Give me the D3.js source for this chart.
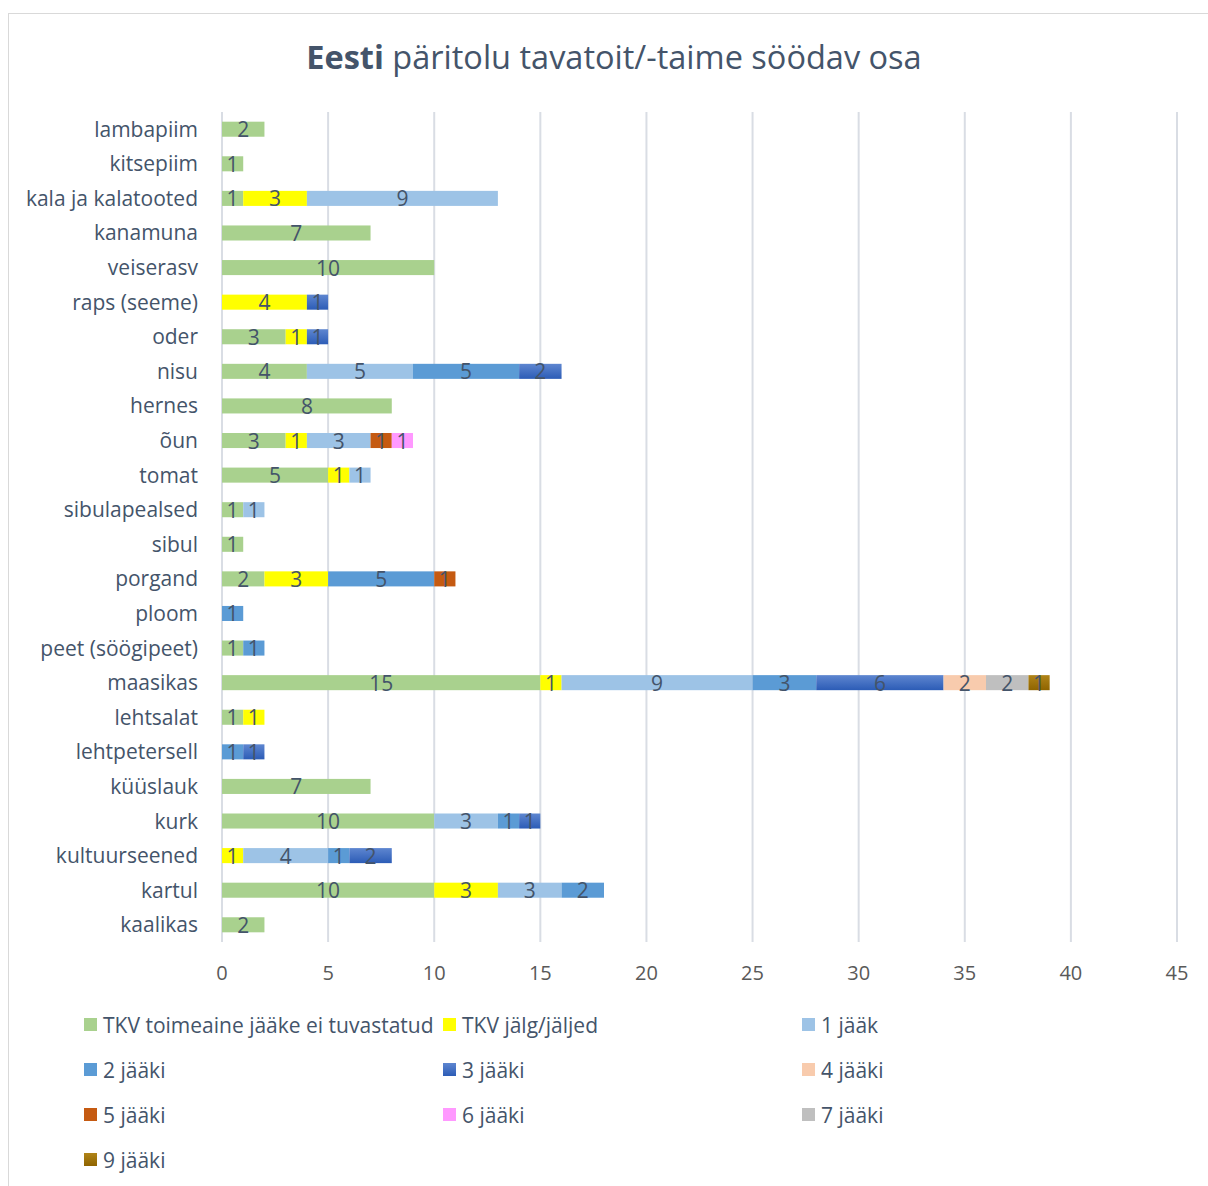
<!DOCTYPE html>
<html>
<head>
<meta charset="utf-8">
<script src="https://cdn.jsdelivr.net/npm/d3@7"></script>
<style>
  body { margin: 0; background: #fff; }
  svg text { font-family: "Open Sans", "Noto Sans", sans-serif; }
</style>
</head>
<body>
<svg id="chart" width="1208" height="1186"></svg>
<script>
// Categories, listed top to bottom as drawn
const categories = [
  "lambapiim", "kitsepiim", "kala ja kalatooted", "kanamuna", "veiserasv",
  "raps (seeme)", "oder", "nisu", "hernes", "õun", "tomat", "sibulapealsed",
  "sibul", "porgand", "ploom", "peet (söögipeet)", "maasikas", "lehtsalat",
  "lehtpetersell", "küüslauk", "kurk", "kultuurseened", "kartul", "kaalikas"
];

const seriesNames = [
  "TKV toimeaine jääke ei tuvastatud", "TKV jälg/jäljed", "1 jääk", "2 jääki",
  "3 jääki", "4 jääki", "5 jääki", "6 jääki", "7 jääki", "9 jääki"
];

// One array per series, aligned with categories
const notDetected = [2, 1, 1, 7, 10, 0, 3, 4, 8, 3, 5, 1, 1, 2, 0, 1, 15, 1, 0, 7, 10, 0, 10, 2];
const traces      = [0, 0, 3, 0, 0, 4, 1, 0, 0, 1, 1, 0, 0, 3, 0, 0, 1, 1, 0, 0, 0, 1, 3, 0];
const residue1    = [0, 0, 9, 0, 0, 0, 0, 5, 0, 3, 1, 1, 0, 0, 0, 0, 9, 0, 0, 0, 3, 4, 3, 0];
const residue2    = [0, 0, 0, 0, 0, 0, 0, 5, 0, 0, 0, 0, 0, 5, 1, 1, 3, 0, 1, 0, 1, 1, 2, 0];
const residue3    = [0, 0, 0, 0, 0, 1, 1, 2, 0, 0, 0, 0, 0, 0, 0, 0, 6, 0, 1, 0, 1, 2, 0, 0];
const residue4    = [0, 0, 0, 0, 0, 0, 0, 0, 0, 0, 0, 0, 0, 0, 0, 0, 2, 0, 0, 0, 0, 0, 0, 0];
const residue5    = [0, 0, 0, 0, 0, 0, 0, 0, 0, 1, 0, 0, 0, 1, 0, 0, 0, 0, 0, 0, 0, 0, 0, 0];
const residue6    = [0, 0, 0, 0, 0, 0, 0, 0, 0, 1, 0, 0, 0, 0, 0, 0, 0, 0, 0, 0, 0, 0, 0, 0];
const residue7    = [0, 0, 0, 0, 0, 0, 0, 0, 0, 0, 0, 0, 0, 0, 0, 0, 2, 0, 0, 0, 0, 0, 0, 0];
const residue9    = [0, 0, 0, 0, 0, 0, 0, 0, 0, 0, 0, 0, 0, 0, 0, 0, 1, 0, 0, 0, 0, 0, 0, 0];

const xTicks = [0, 5, 10, 15, 20, 25, 30, 35, 40, 45];

const seriesValues = [notDetected, traces, residue1, residue2, residue3,
                      residue4, residue5, residue6, residue7, residue9];

const fills = ["#A9D18E", "#FFFF00", "#9DC3E6", "#5B9BD5", "url(#g3)",
               "#F8CBAD", "#C55A11", "#FF99FF", "#BFBFBF", "url(#g9)"];

const rows = categories.map((c, i) => {
  const r = { cat: c };
  seriesNames.forEach((s, k) => r[s] = seriesValues[k][i]);
  return r;
});

const svg = d3.select("#chart");
const defs = svg.append("defs");

function vGrad(id, top, bottom) {
  const g = defs.append("linearGradient").attr("id", id)
    .attr("x1", 0).attr("y1", 0).attr("x2", 0).attr("y2", 1);
  g.append("stop").attr("offset", "0%").attr("stop-color", top);
  g.append("stop").attr("offset", "100%").attr("stop-color", bottom);
}
vGrad("g3", "#5E86D0", "#2C5CB6");
vGrad("g9", "#B08418", "#8F6400");

// chart frame
svg.append("rect").attr("x", 8.5).attr("y", 13.5).attr("width", 1210).attr("height", 1190)
  .attr("fill", "#fff").attr("stroke", "#D9D9D9").attr("stroke-width", 1);

svg.append("text").attr("x", 614).attr("y", 69).attr("text-anchor", "middle")
  .attr("font-size", 32.5).attr("fill", "#44546A")
  .call(t => {
    t.append("tspan").attr("font-weight", "bold").text("Eesti");
    t.append("tspan").text(" päritolu tavatoit/-taime söödav osa");
  });

const x = d3.scaleLinear().domain([0, 45]).range([222, 1177]);
const y = d3.scaleBand().domain(categories).range([112, 942]).paddingInner(0.565).paddingOuter(0.28);

// vertical grid
svg.append("g").selectAll("line").data(xTicks).join("line")
  .attr("x1", d => x(d)).attr("x2", d => x(d))
  .attr("y1", 112).attr("y2", 942)
  .attr("stroke", "#D9DDE4").attr("stroke-width", 2);

const stack = d3.stack().keys(seriesNames)(rows);

const layers = svg.append("g").selectAll("g").data(stack).join("g")
  .attr("fill", (d, i) => fills[i]);

layers.selectAll("rect").data(d => d.filter(p => p[1] > p[0])).join("rect")
  .attr("x", d => x(d[0]))
  .attr("width", d => x(d[1]) - x(d[0]))
  .attr("y", d => y(d.data.cat))
  .attr("height", y.bandwidth());

// value labels
const labelG = svg.append("g");
stack.forEach(layer => {
  layer.filter(p => p[1] > p[0]).forEach(p => {
    labelG.append("text")
      .attr("x", (x(p[0]) + x(p[1])) / 2)
      .attr("y", y(p.data.cat) + y.bandwidth() / 2 + 8)
      .attr("text-anchor", "middle")
      .attr("font-size", 21).attr("fill", "#44546A")
      .text(p[1] - p[0]);
  });
});

// category labels
svg.append("g").selectAll("text").data(categories).join("text")
  .attr("x", 198).attr("y", d => y(d) + y.bandwidth() / 2 + 7.5)
  .attr("text-anchor", "end").attr("font-size", 21).attr("fill", "#44546A")
  .text(d => d);

// x tick labels
svg.append("g").selectAll("text").data(xTicks).join("text")
  .attr("x", d => x(d)).attr("y", 980)
  .attr("text-anchor", "middle").attr("font-size", 20).attr("fill", "#595959")
  .text(d => d);

// legend
const legendCols = [84, 443, 802];
const legendRows = [1025, 1070, 1115, 1160];
const lg = svg.append("g").selectAll("g").data(seriesNames).join("g")
  .attr("transform", (d, i) => `translate(${legendCols[i % 3]},${legendRows[Math.floor(i / 3)]})`);
lg.append("rect").attr("x", 0).attr("y", -7).attr("width", 13).attr("height", 13)
  .attr("fill", (d, i) => fills[i]);
lg.append("text").attr("x", 19).attr("y", 7.5).attr("font-size", 21).attr("fill", "#44546A")
  .text(d => d);
</script>
</body>
</html>
